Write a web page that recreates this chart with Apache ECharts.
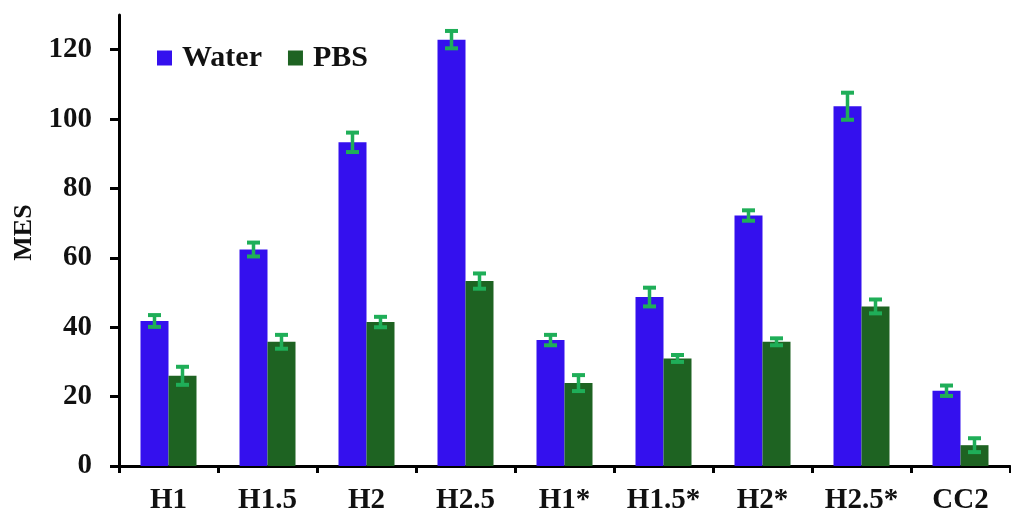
<!DOCTYPE html>
<html>
<head>
<meta charset="utf-8">
<script src="https://cdn.jsdelivr.net/npm/echarts@6/dist/echarts.min.js"></script>
<style>
  html, body { margin: 0; padding: 0; background: #fff; }
  #chart { width: 1011px; height: 515px; }
</style>
</head>
<body>
<div id="chart"></div>
<script>
// Mean MES values per formulation, with their standard deviations
const categories = ['H1', 'H1.5', 'H2', 'H2.5', 'H1*', 'H1.5*', 'H2*', 'H2.5*', 'CC2'];
const waterValues = [41.8, 62.4, 93.3, 122.9, 36.3, 48.7, 72.2, 103.7, 21.7];
const waterErr    = [1.7, 2.0, 2.8, 2.5, 1.5, 2.7, 1.5, 3.9, 1.5];
const pbsValues   = [26.0, 35.8, 41.5, 53.3, 23.9, 31.0, 35.8, 46.0, 6.0];
const pbsErr      = [2.6, 2.0, 1.5, 2.2, 2.3, 1.0, 1.0, 2.0, 2.0];
const yTicks = [0, 20, 40, 60, 80, 100, 120];

const FONT = '"Liberation Serif", "Times New Roman", serif';
const BAR_W = 28;
const WATER_COLOR = '#3410ee';
const PBS_COLOR = '#1e6322';
const ERR_COLOR = '#1fae58';

// Error bar glyph: vertical whisker with a cap at each end, shifted onto its bar
function errorBars(values, errs, shift) {
  const data = values.map((v, i) => [i, v - errs[i], v + errs[i]]);
  return {
    type: 'custom',
    z: 5,
    silent: true,
    data: data,
    renderItem: function (params, api) {
      const lo = api.coord([api.value(0), api.value(1)]);
      const hi = api.coord([api.value(0), api.value(2)]);
      const x = lo[0] + shift;
      const cap = 6.5;
      const style = { stroke: ERR_COLOR, lineWidth: 3.5 };
      const capStyle = { stroke: ERR_COLOR, lineWidth: 4 };
      return {
        type: 'group',
        children: [
          { type: 'line', shape: { x1: x, y1: lo[1], x2: x, y2: hi[1] }, style: style },
          { type: 'line', shape: { x1: x - cap, y1: hi[1], x2: x + cap, y2: hi[1] }, style: capStyle },
          { type: 'line', shape: { x1: x - cap, y1: lo[1], x2: x + cap, y2: lo[1] }, style: capStyle }
        ]
      };
    }
  };
}

const chart = echarts.init(document.getElementById('chart'), null, { renderer: 'canvas' });
chart.setOption({
  animation: false,
  backgroundColor: '#fff',
  grid: { left: 119, right: 1, top: 15, bottom: 48, containLabel: false },
  legend: {
    data: ['Water', 'PBS'],
    left: 152,
    top: 38,
    icon: 'rect',
    itemWidth: 15,
    itemHeight: 15,
    itemGap: 26,
    textStyle: {
      fontFamily: FONT, fontWeight: 'bold', fontSize: 30, color: '#111',
      padding: [0, 0, 0, 5]
    }
  },
  xAxis: {
    type: 'category',
    data: categories,
    boundaryGap: true,
    axisLine: { show: true, onZero: false, lineStyle: { color: '#000', width: 3 } },
    axisTick: { show: true, length: 7, lineStyle: { color: '#000', width: 3 } },
    axisLabel: {
      margin: 20, fontFamily: FONT, fontWeight: 'bold', fontSize: 29, color: '#111'
    },
    splitLine: { show: false }
  },
  yAxis: {
    type: 'value',
    min: 0,
    max: 130,
    interval: 20,
    name: 'MES',
    nameLocation: 'middle',
    nameGap: 80,
    nameRotate: 90,
    nameTextStyle: {
      fontFamily: FONT, fontWeight: 'bold', fontSize: 26, color: '#111',
      padding: [0, 0, 0, 16]
    },
    axisLine: { show: true, lineStyle: { color: '#000', width: 3 } },
    axisTick: { show: true, length: 9, customValues: yTicks, lineStyle: { color: '#000', width: 3 } },
    axisLabel: {
      margin: 27, customValues: yTicks,
      fontFamily: FONT, fontWeight: 'bold', fontSize: 29, color: '#111'
    },
    splitLine: { show: false }
  },
  series: [
    {
      name: 'Water',
      type: 'bar',
      data: waterValues,
      barWidth: BAR_W,
      barGap: '0%',
      itemStyle: { color: WATER_COLOR }
    },
    {
      name: 'PBS',
      type: 'bar',
      data: pbsValues,
      barWidth: BAR_W,
      barGap: '0%',
      itemStyle: { color: PBS_COLOR }
    },
    errorBars(waterValues, waterErr, -BAR_W / 2),
    errorBars(pbsValues, pbsErr, BAR_W / 2)
  ]
});
</script>
</body>
</html>
